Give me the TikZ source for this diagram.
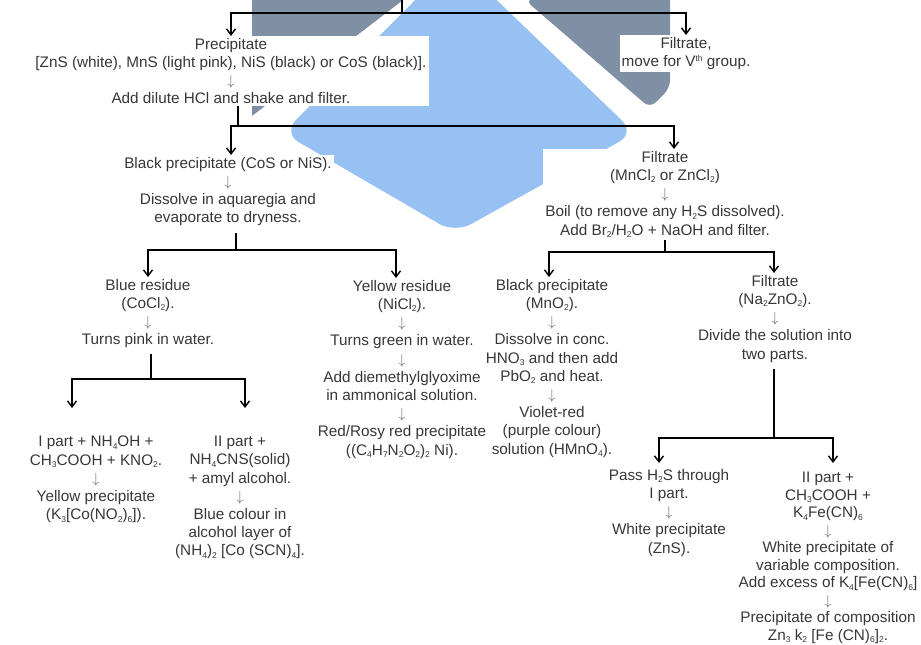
\documentclass[tikz,border=0pt]{standalone}
\usepackage{fontspec}
\setmainfont{Liberation Sans}
\usepackage{tikz}
\usetikzlibrary{arrows.meta}
\newcommand{\subsc}[1]{\raisebox{-2.5pt}{\fontsize{8.5}{8.5}\selectfont #1}}
\newcommand{\supsc}[1]{\raisebox{5pt}{\fontsize{8.5}{8.5}\selectfont #1}}
\newcommand{\dn}{{\color{txtgrey!75}$\downarrow$}}
\definecolor{wmgrey}{RGB}{127,143,164}
\definecolor{wmblue}{RGB}{152,193,243}
\definecolor{txtgrey}{RGB}{55,55,55}

\begin{document}
\begin{tikzpicture}[x=1pt,y=-1pt,>={Straight Barb[length=6pt,width=9pt]},
  every node/.style={font=\fontsize{15.3}{18.2}\selectfont,text=txtgrey,align=center,inner sep=2pt,anchor=north},
  link/.style={line width=1.4pt},
  wbox/.style={fill=white}]
\useasboundingbox (0,0) rectangle (921,645);
% watermark behind the chart
\fill[wmgrey] (252,0) -- (403,0) -- (252,116) -- cycle;
\fill[wmgrey,rounded corners=8pt] (525,0) -- (670,-10) -- (670,88) -- (650,108) -- cycle;
\fill[wmblue,rounded corners=18pt] (455,-40) -- (635,133) -- (455,233) -- (283,133) -- cycle;

\node[wbox] (pre) at (231,36) {Precipitate\\{}[ZnS (white), MnS (light pink), NiS (black) or CoS (black)].\\\dn\\Add dilute HCl and shake and filter.};
\node[wbox] (fil5) at (686,35) {Filtrate,\\move for V\supsc{th} group.};
\node[wbox] (blk) at (228,155) {Black precipitate (CoS or NiS).\\\dn\\Dissolve in aquaregia and\\evaporate to dryness.};
\node[wbox] (filmn) at (665,149) {Filtrate\\(MnCl\subsc{2} or ZnCl\subsc{2})\\\dn\\Boil (to remove any H\subsc{2}S dissolved).\\Add Br\subsc{2}/H\subsc{2}O + NaOH and filter.};
\node (blue) at (148,277) {Blue residue\\(CoCl\subsc{2}).\\\dn\\Turns pink in water.};
\node (yel) at (402,278) {Yellow residue\\(NiCl\subsc{2}).\\\dn\\Turns green in water.\\\dn\\Add diemethylglyoxime\\in ammonical solution.\\\dn\\Red/Rosy red precipitate\\((C\subsc{4}H\subsc{7}N\subsc{2}O\subsc{2})\subsc{2} Ni).};
\node (mno) at (552,277) {Black precipitate\\(MnO\subsc{2}).\\\dn\\Dissolve in conc.\\HNO\subsc{3} and then add\\PbO\subsc{2} and heat.\\\dn\\Violet-red\\(purple colour)\\solution (HMnO\subsc{4}).};
\node (nazn) at (775,273) {Filtrate\\(Na\subsc{2}ZnO\subsc{2}).\\\dn\\Divide the solution into\\two parts.};
\node (ipart) at (96,434) {I part + NH\subsc{4}OH +\\CH\subsc{3}COOH + KNO\subsc{2}.\\\dn\\Yellow precipitate\\(K\subsc{3}[Co(NO\subsc{2})\subsc{6}]).};
\node (iipart) at (240,434) {II part +\\NH\subsc{4}CNS(solid)\\+ amyl alcohol.\\\dn\\Blue colour in\\alcohol layer of\\(NH\subsc{4})\subsc{2} [Co (SCN)\subsc{4}].};
\node (pass) at (669,467) {Pass H\subsc{2}S through\\I part.\\\dn\\White precipitate\\(ZnS).};
\node[font=\fontsize{15.3}{17.5}\selectfont] (iizn) at (828,470) {II part +\\CH\subsc{3}COOH +\\K\subsc{4}Fe(CN)\subsc{6}\\\dn\\White precipitate of\\variable composition.\\Add excess of K\subsc{4}[Fe(CN)\subsc{6}]\\\dn\\Precipitate of composition\\Zn\subsc{3} k\subsc{2} [Fe (CN)\subsc{6}]\subsc{2}.};

\coordinate (top) at (402,0);
\coordinate (j1) at (402,13);
\draw[link] (top) -- (j1);
\draw[link,->] (j1) -| (pre.north);
\draw[link,->] (j1) -| (fil5.north);
\coordinate (j2) at (238,126);
\draw[link] (pre.south -| j2) -- (j2);
\draw[link,->] (j2) -| ([xshift=3pt]blk.north);
\draw[link,->] (j2) -| ([xshift=9pt]filmn.north);
\coordinate (j3) at (236,250);
\draw[link] ([yshift=-5pt]blk.south -| j3) -- (j3);
\draw[link,->] (j3) -| (blue.north);
\draw[link,->] (j3) -| ([xshift=-6pt]yel.north);
\coordinate (j4) at (665,252);
\draw[link] (filmn.south) -- (j4);
\draw[link,->] (j4) -| ([xshift=-3pt]mno.north);
\draw[link,->] (j4) -| ([xshift=-1pt]nazn.north);
\coordinate (j5) at (151,379);
\draw[link] ([yshift=-4pt]blue.south -| j5) -- (j5);
\draw[link,->,shorten >=26pt] (j5) -| ([xshift=-24pt]ipart.north);
\draw[link,->,shorten >=26pt] (j5) -| ([xshift=5pt]iipart.north);
\coordinate (j6) at (774,438);
\draw[link] ([yshift=-5pt]nazn.south -| j6) -- (j6);
\draw[link,->,shorten >=4pt] (j6) -| ([xshift=-10pt]pass.north);
\draw[link,->,shorten >=7pt] (j6) -| ([xshift=5pt]iizn.north);
\end{tikzpicture}
\end{document}
